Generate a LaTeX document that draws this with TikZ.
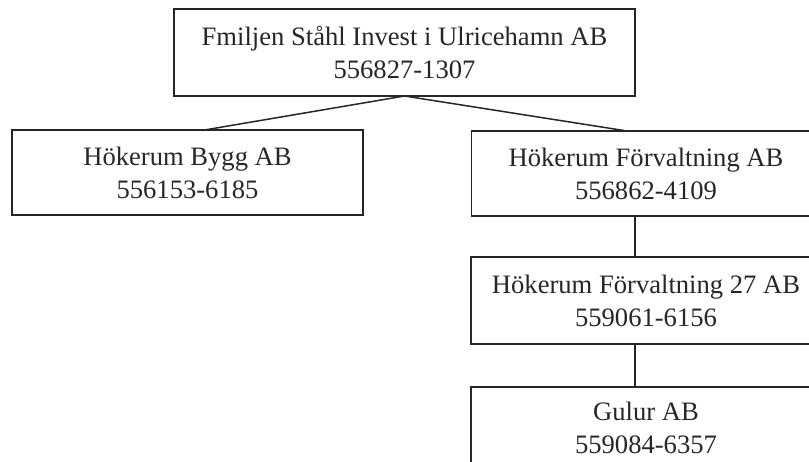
\documentclass[tikz,border=0pt]{standalone}
\usepackage{fontspec}
\setmainfont{Liberation Serif}
\usetikzlibrary{positioning}

\begin{document}
\begin{tikzpicture}[x=1pt, y=1pt, node distance=34pt, auto,
	orgbox/.style={rectangle, draw=black!85, line width=1.7pt, inner sep=0pt, outer sep=0pt,
		minimum height=85pt, align=center, text=black!85,
		font=\fontsize{26.6pt}{33pt}\selectfont},
	orgline/.style={line width=1.5pt, draw=black!85}]
	\path[use as bounding box] (0,0) rectangle (809,-461);
	\clip (0,0) rectangle (809,-461);
	\node[orgbox, minimum width=461pt, minimum height=87pt] (top) at (404.5,-52.5) {Fmiljen Ståhl Invest i Ulricehamn AB\\556827-1307};
	\node[orgbox, minimum width=351pt] (bygg) [below = 34pt of top, xshift=-217pt] {Hökerum Bygg AB\\556153-6185};
	\node[orgbox, minimum width=349pt] (forv) [below = 35pt of top, xshift=241.5pt] {Hökerum Förvaltning AB\\556862-4109};
	\node[orgbox, minimum width=350pt, minimum height=87pt] (forv27) [below = 41pt of forv] {Hökerum Förvaltning 27 AB\\559061-6156};
	\node[orgbox, minimum width=350pt, minimum height=82pt] (gulur) [below = 43pt of forv27] {Gulur AB\\559084-6357};
	\path[orgline] (top.south) edge ([xshift=17pt]bygg.north);
	\path[orgline] (top.south) edge ([xshift=-19pt]forv.north);
	\path[orgline] ([xshift=-11pt]forv.south) edge ([xshift=-11pt]forv27.north);
	\path[orgline] ([xshift=-11pt]forv27.south) edge ([xshift=-11pt]gulur.north);
\end{tikzpicture}
\end{document}
